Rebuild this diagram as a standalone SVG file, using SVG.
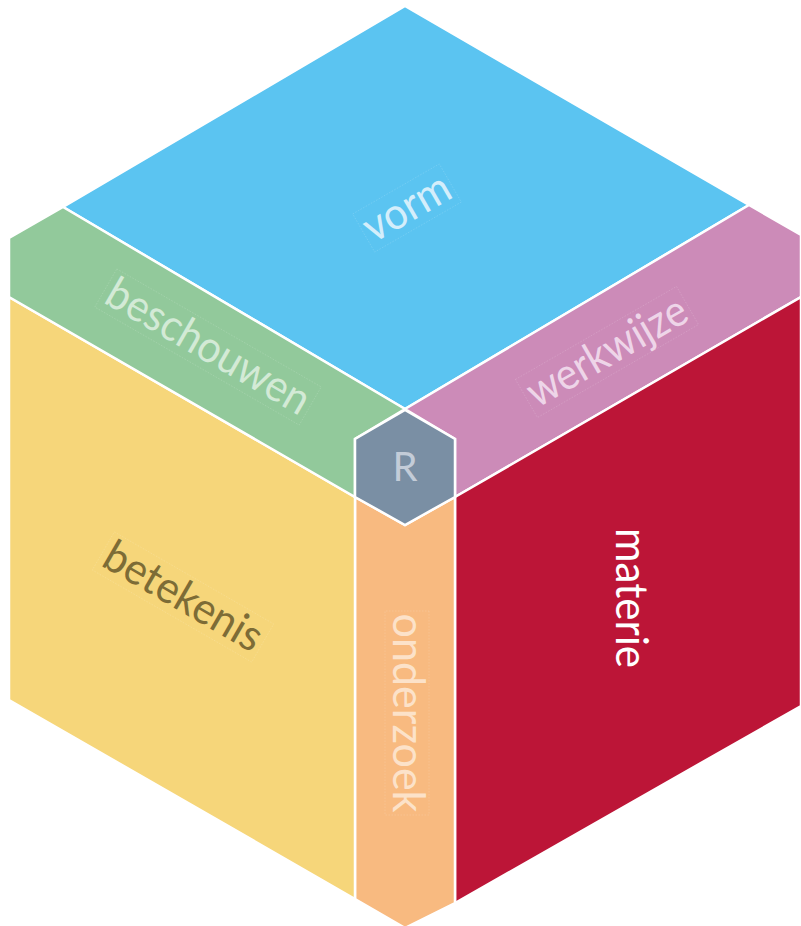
<svg xmlns="http://www.w3.org/2000/svg" width="801" height="926" viewBox="0 0 801 926">
<style>
.face{stroke:#fff;stroke-width:2.5;stroke-linejoin:miter}
.lbl{font-family:"Lato","Open Sans","Liberation Sans",sans-serif;font-size:44px;text-anchor:middle}
.box{fill:none;stroke:#fff;stroke-opacity:0.22;stroke-width:0.6;stroke-dasharray:1.5 1.5}
</style>
<rect width="801" height="926" fill="#fff"/>
<g id="vorm">
<polygon class="face" fill="#5BC4F1" points="405,6 749,205 405,409 63,207"/>
<g transform="translate(407,208) rotate(-30)">
<rect class="box" x="-50" y="-22" width="100" height="44"/>
<text class="lbl" x="0" y="14" fill="#D4EEFB" textLength="94" lengthAdjust="spacingAndGlyphs">vorm</text>
</g>
</g>
<g id="werkwijze">
<polygon class="face" fill="#CC8BB8" points="749,205 801,235 801,297 455,497 455,439 405,409"/>
<g transform="translate(607,352) rotate(-30)">
<rect class="box" x="-93" y="-22" width="186" height="44"/>
<text class="lbl" x="0" y="14" fill="#EED5E8" textLength="178" lengthAdjust="spacingAndGlyphs">werkwijze</text>
</g>
</g>
<g id="materie">
<polygon class="face" fill="#BC1537" points="455,497 801,297 801,706 455,903"/>
<g transform="translate(630,598) rotate(90)">
<text class="lbl" x="0" y="14" fill="#FFFFFF" textLength="140" lengthAdjust="spacingAndGlyphs">materie</text>
</g>
</g>
<g id="onderzoek">
<polygon class="face" fill="#F8BA80" points="355,497 405,525 455,497 455,903 405,928 355,899"/>
<g transform="translate(407,713) rotate(90)">
<rect class="box" x="-102" y="-22" width="204" height="44"/>
<text class="lbl" x="0" y="14" fill="#FCE2C9" textLength="199" lengthAdjust="spacingAndGlyphs">onderzoek</text>
</g>
</g>
<g id="betekenis">
<polygon class="face" fill="#F6D67A" points="9,297 355,497 355,899 9,700"/>
<g transform="translate(183,597) rotate(30)">
<rect class="box" x="-92" y="-22" width="184" height="44"/>
<text class="lbl" x="0" y="14" fill="#7D6C36" textLength="176" lengthAdjust="spacingAndGlyphs">betekenis</text>
</g>
</g>
<g id="beschouwen">
<polygon class="face" fill="#92C99B" points="9,238 63,207 405,409 355,439 355,497 9,297"/>
<g transform="translate(208,347) rotate(30)">
<rect class="box" x="-118" y="-22" width="236" height="44"/>
<text class="lbl" x="0" y="14" fill="#D3EAD6" textLength="228" lengthAdjust="spacingAndGlyphs">beschouwen</text>
</g>
</g>
<g id="R">
<polygon class="face" fill="#7A8FA4" points="405,410 455,439 455,497 405,525 355,497 355,439"/>
<text x="405" y="481" font-family="Lato,'Open Sans','Liberation Sans',sans-serif" font-size="40" text-anchor="middle" fill="#C3CCD8">R</text>
</g>
<g id="connectors"></g>
</svg>
